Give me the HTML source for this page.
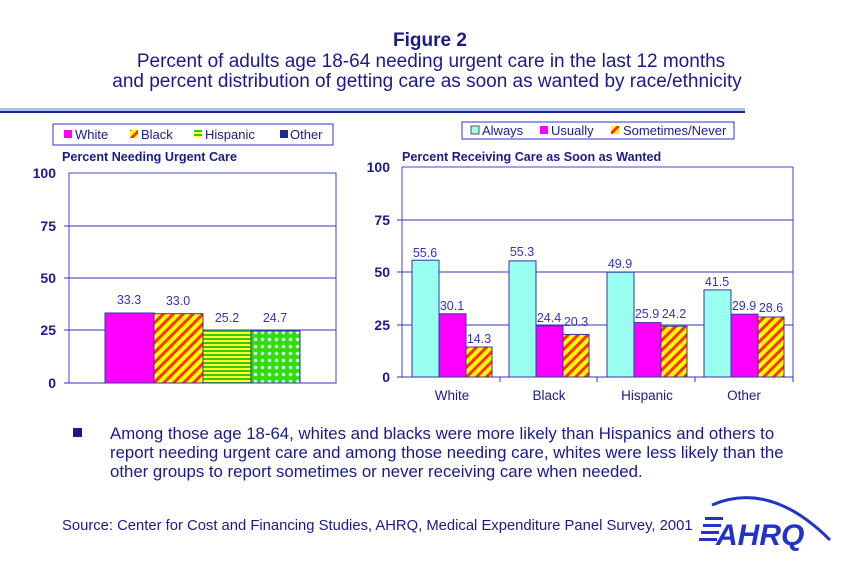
<!DOCTYPE html>
<html><head><style>
body{margin:0;width:853px;height:569px;background:#fff;overflow:hidden;font-family:"Liberation Sans",sans-serif;}
svg text{font-family:"Liberation Sans",sans-serif;}
</style></head><body>
<svg width="853" height="569" viewBox="0 0 853 569">
<defs>
<pattern id="diag" width="7" height="7" patternUnits="userSpaceOnUse" patternTransform="rotate(45)">
<rect width="7" height="7" fill="#ffff00"/><rect width="3" height="7" fill="#ff3300"/></pattern>
<pattern id="horiz" width="4" height="4" patternUnits="userSpaceOnUse">
<rect width="4" height="4" fill="#ffff33"/><rect y="2" width="4" height="2" fill="#33cc00"/></pattern>
<pattern id="dots" width="7" height="7" patternUnits="userSpaceOnUse">
<rect width="7" height="7" fill="#33dd00"/><circle cx="3.5" cy="3.5" r="1.8" fill="#ccffff"/></pattern>
</defs>
<text x="430" y="46" fill="#1a1a8c" font-weight="bold" font-size="19" text-anchor="middle">Figure 2</text>
<g fill="#1a1a8c" font-size="19" text-anchor="middle">
<text x="431" y="67">Percent of adults age 18-64 needing urgent care  in the last 12 months</text>
<text x="427" y="87">and percent distribution of getting care as soon as wanted by race/ethnicity</text>
</g>
<rect x="0" y="108" width="745" height="4" fill="#a8c0ec"/>
<rect x="0" y="111" width="745" height="2" fill="#1a2a8c"/>

<rect x="53" y="124" width="280" height="21" fill="#fff" stroke="#3333cc"/>
<g font-size="13" fill="#1a1a8c">
<rect x="64" y="130" width="8" height="8" fill="#ff00ff"/><text x="75" y="139">White</text>
<rect x="130" y="130" width="8" height="8" fill="url(#diag)"/><text x="141" y="139">Black</text>
<rect x="194" y="130" width="8" height="8" fill="url(#horiz)"/><text x="205" y="139">Hispanic</text>
<rect x="280" y="130" width="8" height="8" fill="#1a2a8c"/><text x="290" y="139">Other</text>
</g>
<text x="62" y="161" font-size="12.6" font-weight="bold" fill="#1a1a8c">Percent Needing Urgent Care</text>
<rect x="69" y="173" width="267" height="210" fill="#fff" stroke="#4444cc"/>
<g stroke="#3333bb" stroke-width="1">
<line x1="64" y1="226" x2="336" y2="226"/><line x1="64" y1="278" x2="336" y2="278"/>
<line x1="64" y1="330" x2="336" y2="330"/><line x1="64" y1="383" x2="336" y2="383"/>
</g>
<g font-size="14" font-weight="bold" fill="#1a1a8c" text-anchor="end">
<text x="56" y="178">100</text><text x="56" y="231">75</text><text x="56" y="283">50</text><text x="56" y="335">25</text><text x="56" y="388">0</text>
</g>
<g stroke="#3333aa" stroke-width="1">
<rect x="105" y="313" width="49" height="70" fill="#ff00ff"/>
<rect x="154" y="313.7" width="49" height="69.3" fill="url(#diag)"/>
<rect x="203" y="330" width="48" height="53" fill="url(#horiz)"/>
<rect x="251" y="331" width="49" height="52" fill="url(#dots)"/>
</g>
<g font-size="12.5" fill="#3333bb" text-anchor="middle">
<text x="129" y="304">33.3</text><text x="178" y="305">33.0</text><text x="227" y="322">25.2</text><text x="275" y="322">24.7</text>
</g>

<rect x="462" y="122" width="272" height="17" fill="#fff" stroke="#3333cc"/>
<g font-size="13" fill="#1a1a8c">
<rect x="471" y="126" width="8" height="8" fill="#99ffee" stroke="#555"/><text x="482" y="135">Always</text>
<rect x="540" y="126" width="8" height="8" fill="#ff00ff"/><text x="551" y="135">Usually</text>
<rect x="611" y="126" width="8" height="8" fill="url(#diag)"/><text x="623" y="135">Sometimes/Never</text>
</g>
<text x="402" y="161" font-size="12.6" font-weight="bold" fill="#1a1a8c">Percent Receiving Care  as Soon as Wanted</text>
<rect x="402" y="167" width="391" height="210" fill="#fff" stroke="#4444cc"/>
<g stroke="#3333bb">
<line x1="397" y1="220" x2="793" y2="220"/><line x1="397" y1="272" x2="793" y2="272"/>
<line x1="397" y1="325" x2="793" y2="325"/><line x1="397" y1="377" x2="793" y2="377"/>
<line x1="500" y1="377" x2="500" y2="382"/><line x1="597" y1="377" x2="597" y2="382"/><line x1="695" y1="377" x2="695" y2="382"/><line x1="793" y1="377" x2="793" y2="382"/>
</g>
<g font-size="14" font-weight="bold" fill="#1a1a8c" text-anchor="end">
<text x="390" y="172">100</text><text x="390" y="225">75</text><text x="390" y="277">50</text><text x="390" y="330">25</text><text x="390" y="382">0</text>
</g>
<g stroke="#3333aa">
<rect x="412" y="260.2" width="27" height="116.8" fill="#99ffee"/>
<rect x="439" y="313.8" width="27" height="63.2" fill="#ff00ff"/>
<rect x="466" y="347" width="26" height="30" fill="url(#diag)"/>
<rect x="509" y="260.9" width="27" height="116.1" fill="#99ffee"/>
<rect x="536" y="325.8" width="27" height="51.2" fill="#ff00ff"/>
<rect x="563" y="334.4" width="26" height="42.6" fill="url(#diag)"/>
<rect x="607" y="272.2" width="27" height="104.8" fill="#99ffee"/>
<rect x="634" y="322.6" width="27" height="54.4" fill="#ff00ff"/>
<rect x="661" y="326.2" width="26" height="50.8" fill="url(#diag)"/>
<rect x="704" y="289.9" width="27" height="87.1" fill="#99ffee"/>
<rect x="731" y="314.2" width="27" height="62.8" fill="#ff00ff"/>
<rect x="758" y="317" width="26" height="60" fill="url(#diag)"/>
</g>
<g font-size="12.5" fill="#3333bb" text-anchor="middle">
<text x="425" y="257">55.6</text><text x="452" y="310">30.1</text><text x="479" y="343">14.3</text>
<text x="522" y="256">55.3</text><text x="549" y="322">24.4</text><text x="576" y="326">20.3</text>
<text x="620" y="268">49.9</text><text x="647" y="318">25.9</text><text x="674" y="318">24.2</text>
<text x="717" y="286">41.5</text><text x="744" y="310">29.9</text><text x="771" y="312">28.6</text>
</g>
<g font-size="13.5" fill="#1a1a8c" text-anchor="middle">
<text x="452" y="400">White</text><text x="549" y="400">Black</text><text x="647" y="400">Hispanic</text><text x="744" y="400">Other</text>
</g>

<rect x="73" y="428" width="9" height="9" fill="#1a1a8c"/>
<g font-size="16.8" fill="#1a1a8c">
<text x="110" y="439">Among those age 18-64, whites and blacks were more likely than Hispanics and others to</text>
<text x="110" y="458">report needing urgent care and among those needing care, whites were less likely than the</text>
<text x="110" y="477">other groups to report sometimes or never receiving care when needed.</text>
</g>
<text x="62" y="530" font-size="14.8" fill="#1a1a8c">Source:  Center for Cost and Financing Studies, AHRQ, Medical Expenditure Panel Survey, 2001</text>
<path d="M712 505 Q770 480 830 540" stroke="#2233cc" stroke-width="3" fill="none"/>
<g fill="#2233cc">
<rect x="705" y="517" width="18" height="3"/><rect x="703" y="524" width="18" height="3"/><rect x="701" y="531" width="18" height="3"/><rect x="699" y="538" width="18" height="3"/>
</g>
<text x="716" y="545" font-size="30" font-weight="bold" font-style="italic" fill="#2233cc">AHRQ</text>
</svg>
</body></html>
